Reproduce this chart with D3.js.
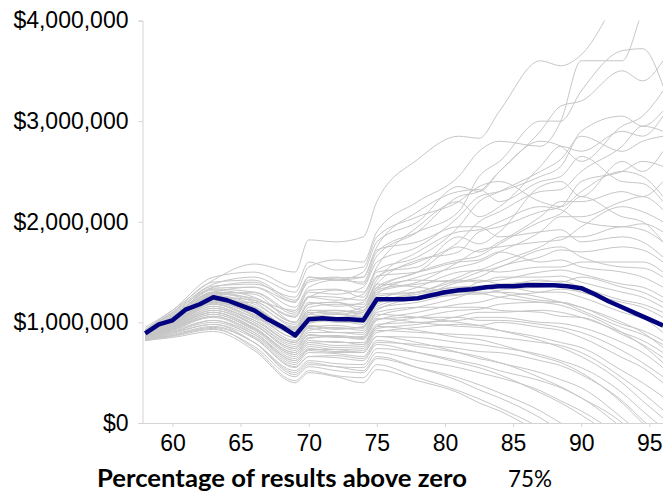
<!DOCTYPE html>
<html>
<head>
<meta charset="utf-8">
<script src="https://cdn.jsdelivr.net/npm/d3@7"></script>
<style>
  body { margin: 0; background: #fff; }
  .tick text { font-family: "Liberation Sans", Arial, sans-serif; font-size: 23px; fill: #000; }
  .domain, .tick line { stroke: #d4d4d4; }
</style>
</head>
<body>
<svg id="chart" width="663" height="496"></svg>
<script>
// ages where each simulated path was read off
var ages = [58, 60, 63, 66, 69, 70, 72, 74, 75, 78, 81, 82.5, 84, 87, 88.5, 90, 93, 94.5, 96];

// simulated balances, millions of dollars
var paths = [
  [.95, 1.12, 1.42, 1.58, 1.50, 1.82, 1.80, 1.85, 2.20, 2.62, 2.85, 2.83, 3.10, 3.60, 3.55, 3.66, 4.30, 4.60, 4.80],
  [.93, 1.10, 1.38, 1.45, 1.30, 1.55, 1.62, 1.60, 1.90, 2.20, 2.45, 2.70, 2.80, 2.75, 3.00, 3.60, 3.60, 4.10, 4.60],
  [.90, 1.05, 1.35, 1.40, 1.20, 1.45, 1.42, 1.50, 1.80, 2.00, 2.35, 2.30, 2.50, 2.90, 3.15, 3.20, 3.50, 3.40, 3.60],
  [.92, 1.08, 1.30, 1.35, 1.15, 1.35, 1.42, 1.40, 1.70, 1.90, 2.10, 2.45, 2.60, 3.00, 3.00, 3.30, 3.70, 3.72, 3.35],
  [.88, 1.00, 1.28, 1.30, 1.10, 1.30, 1.28, 1.35, 1.60, 1.75, 2.05, 2.25, 2.30, 2.45, 2.55, 2.90, 3.05, 2.95, 3.10],
  [.91, 1.06, 1.32, 1.25, 1.05, 1.25, 1.32, 1.30, 1.55, 1.95, 2.20, 2.05, 2.15, 2.55, 2.75, 2.70, 2.90, 2.85, 3.05],
  [.87, 1.00, 1.20, 1.20, 1.00, 1.20, 1.16, 1.20, 1.45, 1.60, 1.80, 2.00, 2.10, 2.30, 2.32, 2.50, 2.75, 2.95, 2.90],
  [.90, 1.04, 1.25, 1.22, 1.12, 1.32, 1.33, 1.25, 1.50, 1.55, 1.85, 1.78, 1.90, 2.35, 2.40, 2.25, 2.60, 2.50, 2.70],
  [.86, .98, 1.22, 1.10, .95, 1.12, 1.10, 1.15, 1.38, 1.62, 1.70, 1.90, 1.95, 2.10, 2.15, 2.40, 2.50, 2.60, 2.55],
  [.89, 1.02, 1.30, 1.28, 1.00, 1.18, 1.20, 1.12, 1.35, 1.50, 1.75, 1.70, 1.80, 2.05, 2.20, 2.20, 2.30, 2.25, 2.40],
  [.93, 1.12, 1.45, 1.50, 1.35, 1.60, 1.52, 1.55, 1.85, 2.05, 2.20, 2.35, 2.40, 2.20, 2.15, 2.30, 2.50, 2.45, 2.25],
  [.85, .97, 1.18, 1.05, .90, 1.05, 1.08, 1.05, 1.28, 1.45, 1.55, 1.60, 1.70, 1.90, 2.05, 2.05, 2.20, 2.25, 2.12],
  [.88, 1.01, 1.24, 1.15, .92, 1.08, 1.05, 1.10, 1.32, 1.40, 1.60, 1.72, 1.75, 1.80, 1.82, 1.95, 2.15, 2.10, 2.00],
  [.90, 1.03, 1.27, 1.18, .98, 1.15, 1.18, 1.18, 1.42, 1.70, 1.90, 1.92, 2.00, 2.15, 2.12, 2.00, 1.95, 1.98, 1.90],
  [.87, .99, 1.20, 1.08, .85, 1.00, 1.02, .98, 1.20, 1.35, 1.50, 1.52, 1.60, 1.75, 1.85, 1.85, 1.95, 1.92, 1.80],
  [.91, 1.07, 1.36, 1.38, 1.25, 1.45, 1.42, 1.45, 1.72, 1.80, 1.95, 1.95, 1.85, 1.90, 1.92, 1.80, 1.85, 1.80, 1.65],
  [.86, .97, 1.16, 1.00, .78, .92, .95, .92, 1.12, 1.25, 1.40, 1.45, 1.55, 1.65, 1.72, 1.70, 1.75, 1.72, 1.60],
  [.89, 1.02, 1.23, 1.12, .90, 1.06, 1.02, 1.04, 1.26, 1.30, 1.45, 1.52, 1.50, 1.55, 1.55, 1.60, 1.60, 1.60, 1.50],
  [.92, 1.09, 1.33, 1.30, 1.08, 1.26, 1.25, 1.22, 1.46, 1.50, 1.60, 1.62, 1.70, 1.60, 1.62, 1.55, 1.50, 1.45, 1.35],
  [.88, 1.00, 1.21, 1.06, .82, .97, .94, .95, 1.16, 1.25, 1.30, 1.40, 1.42, 1.50, 1.52, 1.48, 1.38, 1.35, 1.25],
  [.90, 1.05, 1.29, 1.20, .96, 1.12, 1.12, 1.08, 1.30, 1.38, 1.42, 1.40, 1.45, 1.45, 1.46, 1.40, 1.30, 1.25, 1.15],
  [.85, .96, 1.12, .98, .74, .88, .85, .86, 1.06, 1.15, 1.25, 1.32, 1.35, 1.42, 1.40, 1.45, 1.35, 1.30, 1.20],
  [.87, .98, 1.19, 1.04, .80, .95, .97, .94, 1.14, 1.20, 1.28, 1.28, 1.32, 1.35, 1.36, 1.30, 1.20, 1.15, 1.05],
  [.90, 1.04, 1.26, 1.16, .93, 1.10, 1.08, 1.12, 1.34, 1.42, 1.40, 1.42, 1.38, 1.30, 1.30, 1.25, 1.10, 1.04, .95],
  [.86, .95, 1.10, .95, .70, .84, .86, .83, 1.02, 1.10, 1.18, 1.20, 1.25, 1.30, 1.33, 1.30, 1.15, 1.05, .90],
  [.89, 1.01, 1.22, 1.10, .88, 1.04, 1.00, 1.00, 1.22, 1.25, 1.27, 1.30, 1.30, 1.25, 1.20, 1.15, .98, .92, .82],
  [.84, .93, 1.08, .93, .68, .80, .81, .78, .96, 1.05, 1.12, 1.13, 1.18, 1.20, 1.20, 1.15, 1.00, .90, .75],
  [.88, .99, 1.18, 1.02, .80, .94, .90, .90, 1.10, 1.15, 1.15, 1.15, 1.12, 1.10, 1.06, 1.05, .88, .78, .65],
  [.91, 1.06, 1.30, 1.22, 1.00, 1.18, 1.20, 1.15, 1.38, 1.35, 1.30, 1.29, 1.25, 1.20, 1.17, 1.10, .90, .77, .60],
  [.85, .94, 1.10, .94, .70, .82, .80, .80, .98, 1.00, 1.02, 1.05, 1.05, 1.00, .99, .95, .80, .70, .55],
  [.87, .97, 1.14, .98, .72, .85, .86, .84, 1.03, 1.05, 1.05, 1.02, 1.02, .98, .95, .90, .72, .60, .46],
  [.83, .90, 1.02, .88, .62, .74, .71, .72, .90, .95, .98, .97, 1.00, .95, .92, .85, .65, .55, .40],
  [.86, .95, 1.12, .97, .74, .87, .87, .85, 1.04, 1.00, .96, .95, .92, .85, .80, .75, .52, .40, .26],
  [.84, .92, 1.06, .90, .64, .76, .73, .74, .92, .90, .88, .87, .85, .80, .77, .70, .45, .30, .13],
  [.88, .98, 1.16, 1.00, .76, .90, .90, .88, 1.08, 1.05, 1.00, .97, .92, .82, .75, .66, .40, .22, .05],
  [.85, .93, 1.05, .88, .60, .72, .70, .70, .86, .85, .80, .78, .75, .68, .62, .55, .30, .12, -.05],
  [.83, .89, .98, .84, .55, .66, .67, .64, .80, .78, .74, .71, .70, .62, .57, .48, .22, .03, -.15],
  [.87, .96, 1.10, .94, .68, .80, .77, .78, .96, .92, .85, .83, .78, .66, .60, .50, .20, .00, -.20],
  [.84, .91, 1.00, .86, .58, .70, .69, .66, .82, .76, .70, .66, .60, .50, .43, .35, .05, -.12, -.30],
  [.82, .87, .95, .80, .52, .62, .59, .58, .74, .70, .62, .58, .52, .42, .35, .25, -.05, -.22, -.40],
  [.86, .94, 1.06, .90, .62, .73, .73, .70, .86, .80, .70, .64, .60, .45, .36, .25, .00, -.20, -.40],
  [.83, .88, .96, .80, .50, .60, .56, .55, .70, .62, .55, .50, .45, .32, .22, .12, -.15, -.32, -.50],
  [.85, .92, 1.02, .85, .56, .66, .65, .62, .78, .70, .60, .55, .48, .30, .20, .08, -.20, -.35, -.50],
  [.82, .86, .93, .76, .46, .56, .52, .50, .64, .55, .45, .38, .30, .12, .00, -.10, -.40, -.55, -.70],
  [.84, .90, .98, .80, .48, .58, .56, .52, .66, .55, .42, .33, .25, .05, -.08, -.20, -.50, -.65, -.80],
  [.83, .87, .94, .74, .42, .52, .47, .45, .58, .45, .32, .24, .15, -.05, -.18, -.30, -.60, -.75, -.90],
  [.82, .85, .91, .72, .40, .50, .46, .40, .53, .42, .30, .20, .12, -.10, -.22, -.35, -.60, -.75, -.90],
  [.90, 1.05, 1.34, 1.35, 1.20, 1.42, 1.45, 1.38, 1.66, 1.90, 2.25, 2.30, 2.50, 2.80, 2.75, 2.60, 2.95, 3.05, 3.30],
  [.89, 1.03, 1.28, 1.24, 1.06, 1.25, 1.22, 1.28, 1.52, 1.65, 1.95, 2.20, 2.30, 2.50, 2.62, 2.85, 2.70, 2.80, 2.85],
  [.92, 1.10, 1.40, 1.42, 1.22, 1.40, 1.44, 1.45, 1.75, 2.10, 2.30, 2.32, 2.20, 2.40, 2.45, 2.65, 2.40, 2.38, 2.20],
  [.87, .99, 1.20, 1.10, .90, 1.08, 1.12, 1.10, 1.32, 1.50, 1.62, 1.66, 1.78, 2.00, 2.08, 2.25, 2.05, 2.00, 1.80],
  [.86, .96, 1.14, 1.02, .80, .96, .93, .96, 1.18, 1.30, 1.42, 1.50, 1.55, 1.72, 1.75, 1.65, 1.55, 1.54, 1.45],
  [.88, 1.00, 1.20, 1.07, .85, .99, 1.02, 1.00, 1.20, 1.28, 1.35, 1.34, 1.38, 1.40, 1.41, 1.35, 1.22, 1.18, 1.10],
  [.85, .94, 1.08, .92, .66, .78, .75, .76, .94, .98, 1.06, 1.10, 1.10, 1.12, 1.10, 1.05, .90, .82, .70],
  [.90, 1.04, 1.26, 1.14, .94, 1.10, 1.09, 1.06, 1.28, 1.30, 1.35, 1.36, 1.30, 1.22, 1.20, 1.12, .95, .88, .78]
];

// median path, one value per year of age
var median_ages = [58, 59, 60, 61, 62, 63, 64, 65, 66, 67, 68, 69, 70, 71, 72, 73, 74, 75, 76, 77,
                   78, 79, 80, 81, 82, 83, 84, 85, 86, 87, 88, 89, 90, 91, 92, 93, 94, 95, 96];
var median_values = [.89, .98, 1.02, 1.13, 1.18, 1.25, 1.22, 1.17, 1.12, 1.03, .96, .87, 1.03, 1.04,
                     1.03, 1.03, 1.02, 1.23, 1.23, 1.23, 1.24, 1.27, 1.30, 1.32, 1.33, 1.35, 1.36,
                     1.36, 1.37, 1.37, 1.37, 1.36, 1.34, 1.28, 1.21, 1.15, 1.09, 1.03, .97];

var x_ticks = [60, 65, 70, 75, 80, 85, 90, 95];
var y_ticks = [0, 1000000, 2000000, 3000000, 4000000];
var axis_title = "Percentage of results above zero";
var above_zero = "75%";

function draw_chart(selector) {
  var left = 142.5, right = 663, top = 20.5, bottom = 423;
  var svg = d3.select(selector);

  var x = d3.scaleLinear().domain([57.8, 96]).range([left, right]);
  var y = d3.scaleLinear().domain([0, 4000000]).range([bottom, top]);

  svg.append("defs").append("clipPath").attr("id", "plot_clip")
    .append("rect").attr("x", left).attr("y", top)
    .attr("width", right - left).attr("height", bottom - top);

  var money = d3.format(",");

  svg.append("g").attr("transform", "translate(" + left + ",0)")
    .call(d3.axisLeft(y).tickValues(y_ticks).tickSize(4).tickPadding(10)
      .tickFormat(function(d) { return "$" + money(d); }));

  svg.append("g").attr("transform", "translate(0," + bottom + ")")
    .call(d3.axisBottom(x).tickValues(x_ticks).tickSize(4).tickPadding(8).tickSizeOuter(0));

  var plot = svg.append("g").attr("clip-path", "url(#plot_clip)");

  var path_line = d3.line()
    .x(function(d, i) { return x(ages[i]); })
    .y(function(d) { return y(d * 1000000); })
    .curve(d3.curveMonotoneX);

  plot.selectAll("path.sim").data(paths).enter().append("path")
    .attr("class", "sim")
    .attr("d", path_line)
    .attr("fill", "none")
    .attr("stroke", "#c6c6c6")
    .attr("stroke-width", 1);

  var median_line = d3.line()
    .x(function(d, i) { return x(median_ages[i]); })
    .y(function(d) { return y(d * 1000000); });

  plot.append("path").datum(median_values)
    .attr("d", median_line)
    .attr("fill", "none")
    .attr("stroke", "#03037f")
    .attr("stroke-width", 4.5)
    .attr("stroke-linejoin", "round");

  svg.append("text")
    .attr("x", 97).attr("y", 487)
    .attr("textLength", 370).attr("lengthAdjust", "spacingAndGlyphs")
    .style("font-family", "Lato, 'Open Sans', sans-serif")
    .style("font-weight", "bold").style("font-size", "24px")
    .text(axis_title);

  svg.append("text")
    .attr("x", 508).attr("y", 487)
    .attr("textLength", 44).attr("lengthAdjust", "spacingAndGlyphs")
    .style("font-family", "Lato, 'Open Sans', sans-serif")
    .style("font-size", "24px")
    .text(above_zero);
}

draw_chart("#chart");
</script>
</body>
</html>
